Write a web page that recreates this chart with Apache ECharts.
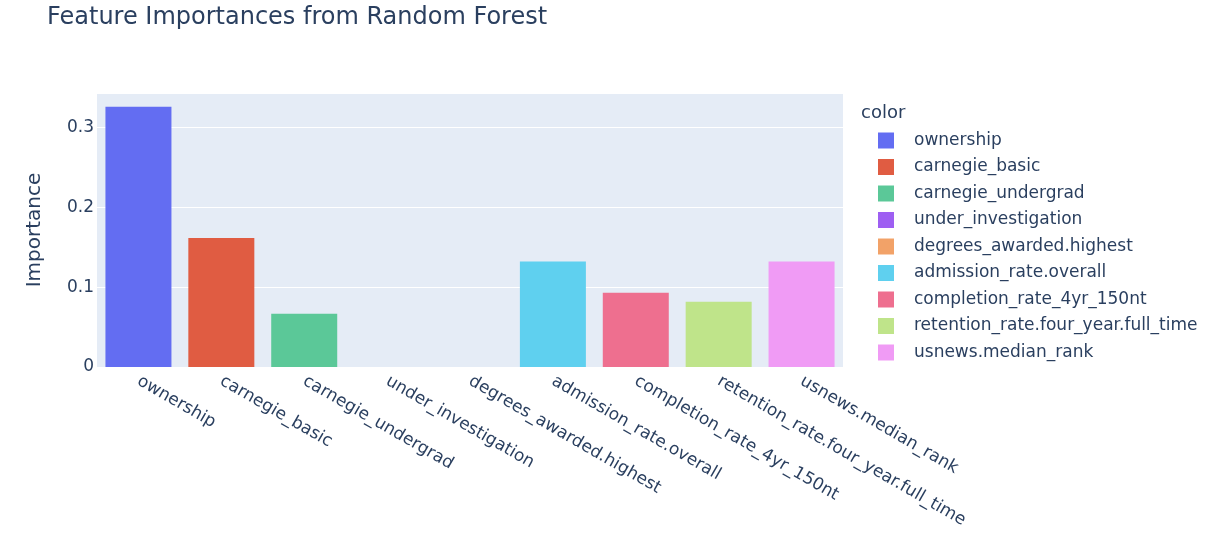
<!DOCTYPE html>
<html>
<head>
<meta charset="utf-8">
<script src="https://cdn.jsdelivr.net/npm/echarts@6/dist/echarts.min.js"></script>
<style>html,body{margin:0;padding:0;background:#fff}#c{width:1214px;height:548px}</style>
</head>
<body>
<div id="c"></div>
<script>
const categories = ['ownership','carnegie_basic','carnegie_undergrad','under_investigation','degrees_awarded.highest','admission_rate.overall','completion_rate_4yr_150nt','retention_rate.four_year.full_time','usnews.median_rank'];
const importances = [0.3258, 0.1616, 0.0668, 0, 0, 0.1320, 0.0930, 0.0818, 0.1322];
const colors = ['#636df2','#e05c42','#5bc898','#9e5ff2','#f2a268','#5fd0ef','#ee6f8f','#bfe48a','#f09bf5'];
const yTicks = [0, 0.1, 0.2, 0.3];

const FONT = '"DejaVu Sans", Verdana, sans-serif';
const TXT = '#2a3f5f';

const series = categories.map((c, i) => ({
  name: c,
  type: 'bar',
  barGap: '-100%',
  barWidth: 66,
  itemStyle: { color: colors[i] },
  data: categories.map((_, j) => j === i ? importances[i] : null)
}));

const chart = echarts.init(document.getElementById('c'), null, { renderer: 'canvas' });
chart.setOption({
  animation: false,
  backgroundColor: '#fff',
  textStyle: { fontFamily: FONT },
  title: [
    { text: 'Feature Importances from Random Forest', left: 42, top: 1,
      textStyle: { fontFamily: FONT, fontSize: 24, fontWeight: 'normal', color: TXT } },
    { text: 'color', left: 856, top: 99,
      textStyle: { fontFamily: FONT, fontSize: 18, fontWeight: 'normal', color: TXT } }
  ],
  legend: {
    orient: 'vertical', left: 873, top: 127,
    icon: 'rect', itemWidth: 16, itemHeight: 16, itemGap: 9.5,
    textStyle: { fontFamily: FONT, fontSize: 17, color: TXT, padding: [0, 0, 0, 15] },
    data: categories
  },
  grid: { left: 97, right: 371, top: 93, bottom: 181, show: true, backgroundColor: '#e5ecf6', borderWidth: 0 },
  xAxis: {
    type: 'category', data: categories,
    axisLine: { show: false }, axisTick: { show: false },
    axisLabel: { rotate: -30, interval: 0, margin: 13, fontFamily: FONT, fontSize: 17, color: TXT }
  },
  yAxis: {
    type: 'value', min: 0, max: 0.343, interval: 0.1,
    name: 'Importance', nameLocation: 'middle', nameGap: 52,
    nameTextStyle: { fontFamily: FONT, fontSize: 20, color: TXT },
    axisLine: { show: false }, axisTick: { show: false },
    axisLabel: { margin: 3, fontFamily: FONT, fontSize: 17, color: TXT,
      formatter: v => yTicks.some(t => Math.abs(t - v) < 1e-9) ? String(v) : '' },
    splitLine: { lineStyle: { color: '#ffffff', width: 1 } }
  },
  series: series
});
</script>
</body>
</html>
